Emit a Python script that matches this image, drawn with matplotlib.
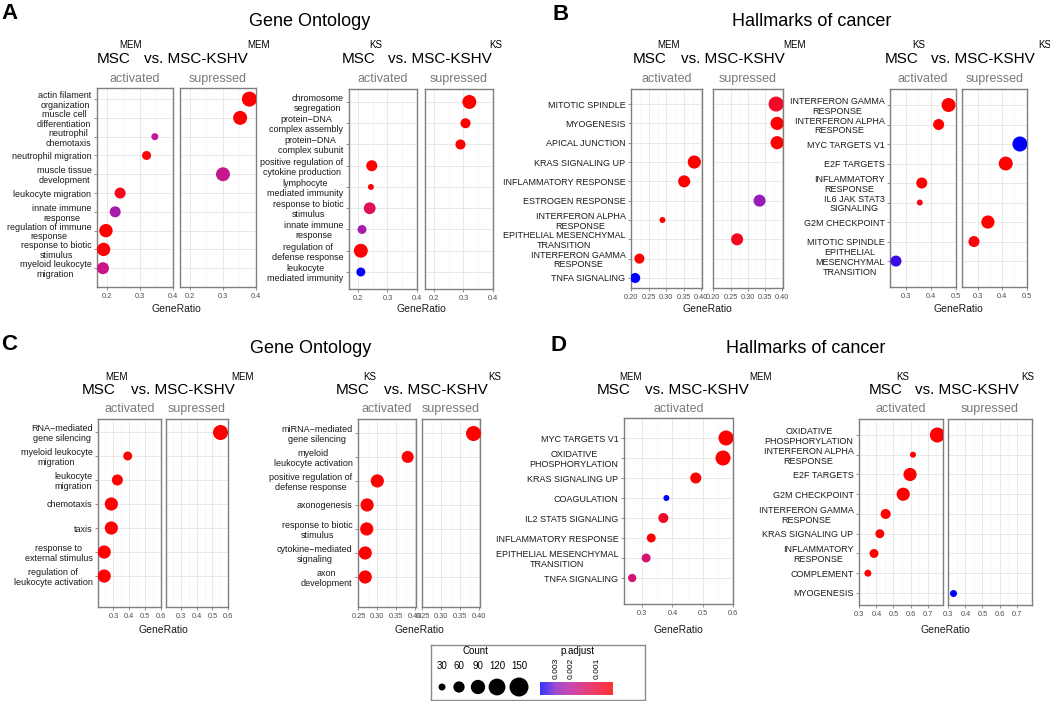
import numpy as np
import matplotlib
matplotlib.use("Agg")
import matplotlib.pyplot as plt
from matplotlib.colors import LinearSegmentedColormap, LogNorm
from matplotlib.ticker import MultipleLocator, FormatStrFormatter

plt.rcParams['font.family'] = ['Liberation Sans', 'DejaVu Sans']

# %% data
# A - Gene Ontology, MEM
a_mem_terms = ["actin filament\norganization", "muscle cell\ndifferentiation", "neutrophil\nchemotaxis",
               "neutrophil migration", "muscle tissue\ndevelopment", "leukocyte migration",
               "innate immune\nresponse", "regulation of immune\nresponse", "response to biotic\nstimulus",
               "myeloid leukocyte\nmigration"]
a_mem_dir = ['s', 's', 'a', 'a', 's', 'a', 'a', 'a', 'a', 'a']
a_mem_ratio = [0.38, 0.352, 0.345, 0.32, 0.30, 0.24, 0.225, 0.197, 0.19, 0.188]
a_mem_count = [98, 86, 30, 42, 86, 58, 58, 80, 80, 67]
a_mem_padj = [0.0005, 0.0005, 0.0019, 0.0007, 0.0018, 0.0008, 0.0024, 0.0005, 0.0007, 0.0017]

# A - Gene Ontology, KS
a_ks_terms = ["chromosome\nsegregation", "protein\u2212DNA\ncomplex assembly", "protein\u2212DNA\ncomplex subunit",
              "positive regulation of\ncytokine production", "lymphocyte\nmediated immunity",
              "response to biotic\nstimulus", "innate immune\nresponse", "regulation of\ndefense response",
              "leukocyte\nmediated immunity"]
a_ks_dir = ['s', 's', 's', 'a', 'a', 'a', 'a', 'a', 'a']
a_ks_ratio = [0.32, 0.307, 0.29, 0.247, 0.244, 0.24, 0.214, 0.21, 0.21]
a_ks_count = [86, 50, 50, 58, 25, 65, 42, 86, 42]
a_ks_padj = [0.0005, 0.0005, 0.0005, 0.0005, 0.0007, 0.0012, 0.0024, 0.0005, 0.0046]

# B - Hallmarks, MEM
b_mem_terms = ["MITOTIC SPINDLE", "MYOGENESIS", "APICAL JUNCTION", "KRAS SIGNALING UP",
               "INFLAMMATORY RESPONSE", "ESTROGEN RESPONSE", "INTERFERON ALPHA\nRESPONSE",
               "EPITHELIAL MESENCHYMAL\nTRANSITION", "INTERFERON GAMMA\nRESPONSE", "TNFA SIGNALING"]
b_mem_dir = ['s', 's', 's', 'a', 'a', 's', 'a', 's', 'a', 'a']
b_mem_ratio = [0.382, 0.385, 0.385, 0.38, 0.351, 0.334, 0.289, 0.269, 0.223, 0.211]
b_mem_count = [98, 78, 78, 78, 67, 67, 25, 67, 50, 50]
b_mem_padj = [0.0009, 0.0005, 0.0005, 0.0005, 0.0005, 0.0027, 0.0006, 0.0008, 0.0006, 0.0046]

# B - Hallmarks, KS
b_ks_terms = ["INTERFERON GAMMA\nRESPONSE", "INTERFERON ALPHA\nRESPONSE", "MYC TARGETS V1", "E2F TARGETS",
              "INFLAMMATORY\nRESPONSE", "IL6 JAK STAT3\nSIGNALING", "G2M CHECKPOINT", "MITOTIC SPINDLE",
              "EPITHELIAL\nMESENCHYMAL\nTRANSITION"]
b_ks_dir = ['a', 'a', 's', 's', 'a', 'a', 's', 's', 'a']
b_ks_ratio = [0.472, 0.432, 0.473, 0.415, 0.364, 0.356, 0.342, 0.285, 0.26]
b_ks_count = [86, 58, 98, 86, 58, 25, 78, 58, 58]
b_ks_padj = [0.0005, 0.0005, 0.0046, 0.0005, 0.0005, 0.0008, 0.0005, 0.0007, 0.0038]

# C - Gene Ontology, MEM
c_mem_terms = ["RNA\u2212mediated\ngene silencing", "myeloid leukocyte\nmigration", "leukocyte\nmigration",
               "chemotaxis", "taxis", "response to\nexternal stimulus", "regulation of\nleukocyte activation"]
c_mem_dir = ['s', 'a', 'a', 'a', 'a', 'a', 'a']
c_mem_ratio = [0.548, 0.39, 0.325, 0.287, 0.287, 0.242, 0.242]
c_mem_count = [98, 42, 58, 78, 78, 78, 78]
c_mem_padj = [0.0004, 0.0005, 0.0005, 0.0004, 0.0004, 0.0004, 0.0004]

# C - Gene Ontology, KS
c_ks_terms = ["miRNA\u2212mediated\ngene silencing", "myeloid\nleukocyte activation",
              "positive regulation of\ndefense response", "axonogenesis", "response to biotic\nstimulus",
              "cytokine\u2212mediated\nsignaling", "axon\ndevelopment"]
c_ks_dir = ['s', 'a', 'a', 'a', 'a', 'a', 'a']
c_ks_ratio = [0.384, 0.38, 0.30, 0.273, 0.272, 0.268, 0.268]
c_ks_count = [98, 67, 78, 78, 78, 78, 78]
c_ks_padj = [0.0004, 0.0005, 0.0004, 0.0004, 0.0004, 0.0004, 0.0004]

# D - Hallmarks, MEM
d_mem_terms = ["MYC TARGETS V1", "OXIDATIVE\nPHOSPHORYLATION", "KRAS SIGNALING UP", "COAGULATION",
               "IL2 STAT5 SIGNALING", "INFLAMMATORY RESPONSE", "EPITHELIAL MESENCHYMAL\nTRANSITION",
               "TNFA SIGNALING"]
d_mem_dir = ['a', 'a', 'a', 'a', 'a', 'a', 'a', 'a']
d_mem_ratio = [0.577, 0.567, 0.477, 0.38, 0.37, 0.33, 0.313, 0.267]
d_mem_count = [98, 98, 58, 25, 50, 42, 42, 38]
d_mem_padj = [0.0005, 0.0005, 0.0005, 0.0046, 0.0009, 0.0006, 0.0015, 0.0015]

# D - Hallmarks, KS
d_ks_terms = ["OXIDATIVE\nPHOSPHORYLATION", "INTERFERON ALPHA\nRESPONSE", "E2F TARGETS", "G2M CHECKPOINT",
              "INTERFERON GAMMA\nRESPONSE", "KRAS SIGNALING UP", "INFLAMMATORY\nRESPONSE", "COMPLEMENT",
              "MYOGENESIS"]
d_ks_dir = ['a', 'a', 'a', 'a', 'a', 'a', 'a', 'a', 's']
d_ks_ratio = [0.757, 0.614, 0.597, 0.557, 0.454, 0.42, 0.386, 0.35, 0.329]
d_ks_count = [98, 25, 78, 78, 50, 42, 42, 30, 30]
d_ks_padj = [0.0005, 0.0005, 0.0005, 0.0005, 0.0005, 0.0005, 0.0005, 0.0005, 0.0046]

legend_counts = [30, 60, 90, 120, 150]
legend_padj = [0.003, 0.002, 0.001]

# %% style helpers
W, H = 1050, 701
fig = plt.figure(figsize=(W / 100, H / 100), dpi=100)

cmap = LinearSegmentedColormap.from_list(
    'padj', [(0, '#ff0000'), (0.3, '#e3104e'), (0.55, '#c21896'), (0.78, '#8a1fc4'), (1, '#0000ff')])
p_lo, p_hi = 0.00065, 0.0046
norm = LogNorm(vmin=p_lo, vmax=p_hi, clip=True)


def msize(c):
    d = np.sqrt(49 + 2.6 * (np.asarray(c, float) - 30))  # dot diameter in px
    return (d * 72 / 100) ** 2


def box(x0, y0, x1, y1):
    return [x0 / W, 1 - y1 / H, (x1 - x0) / W, (y1 - y0) / H]


def fx(x):
    return x / W


def fy(y):
    return 1 - y / H


def panel(terms, direc, ratio, count, padj, rects, xlim, ticks, fmt, pads, strip_y, xlab_y):
    n = len(terms)
    yy = np.arange(n)
    direc = np.array(direc)
    ratio = np.array(ratio); count = np.array(count); padj = np.array(padj)
    keys = ['a', 's']
    names = ['activated', 'supressed']
    step = ticks[1] - ticks[0]
    for i, r in enumerate(rects):
        ax = fig.add_axes(box(*r))
        ax.set_xlim(xlim)
        ax.set_ylim(n - 1 + pads[1], -pads[0])
        ax.set_xticks(ticks)
        ax.xaxis.set_major_formatter(FormatStrFormatter(fmt))
        ax.xaxis.set_minor_locator(MultipleLocator(step / 2))
        ax.set_yticks(yy)
        ax.grid(which='major', color='#e5e5e5', lw=0.6)
        ax.grid(which='minor', axis='x', color='#f3f3f3', lw=0.4)
        ax.set_axisbelow(True)
        for sp in ax.spines.values():
            sp.set_color('#7f7f7f'); sp.set_linewidth(1.0)
        ax.tick_params(axis='x', which='major', labelsize=5.3, labelcolor='#4d4d4d',
                       color='#7f7f7f', length=2, width=0.6, pad=2)
        ax.tick_params(which='minor', length=0)
        if i == 0:
            ax.set_yticklabels(terms, fontsize=6.5, color='#1a1a1a', multialignment='center',
                               linespacing=1.12)
            ax.tick_params(axis='y', length=2, color='#7f7f7f', width=0.6, pad=2)
        else:
            ax.tick_params(axis='y', length=0, labelleft=False)
        m = direc == keys[i]
        ax.scatter(ratio[m], yy[m], s=msize(count[m]), c=padj[m], cmap=cmap, norm=norm,
                   linewidths=0, zorder=3)
        fig.text(fx((r[0] + r[2]) / 2), fy(strip_y), names[i], ha='center', va='baseline',
                 fontsize=9, color='#7a7a7a')
    cx = (rects[0][0] + rects[-1][2]) / 2
    fig.text(fx(cx), fy(xlab_y), 'GeneRatio', ha='center', va='baseline', fontsize=7.5, color='#1a1a1a')


def header(msc_x, vs_x, base_y, s1_x, s2_x, sup_y, tag):
    fig.text(fx(msc_x), fy(base_y), 'MSC', ha='left', va='baseline', fontsize=11)
    fig.text(fx(vs_x), fy(base_y), 'vs. MSC-KSHV', ha='left', va='baseline', fontsize=11)
    fig.text(fx(s1_x), fy(sup_y), tag, ha='center', va='baseline', fontsize=7)
    fig.text(fx(s2_x), fy(sup_y), tag, ha='center', va='baseline', fontsize=7)


# %% panels
panel(a_mem_terms, a_mem_dir, a_mem_ratio, a_mem_count, a_mem_padj,
      [(97, 88, 173, 287), (180, 88, 256, 287)], (0.17, 0.40), [0.2, 0.3, 0.4], '%.1f',
      (0.59, 1.0), 82, 312)
panel(a_ks_terms, a_ks_dir, a_ks_ratio, a_ks_count, a_ks_padj,
      [(349, 89, 417, 289), (425, 89, 493, 289)], (0.17, 0.40), [0.2, 0.3, 0.4], '%.1f',
      (0.61, 0.8), 82, 312)
panel(b_mem_terms, b_mem_dir, b_mem_ratio, b_mem_count, b_mem_padj,
      [(631, 89, 702, 288), (713, 89, 783, 288)], (0.199, 0.402), [0.20, 0.25, 0.30, 0.35, 0.40], '%.2f',
      (0.78, 0.52), 82, 312)
panel(b_ks_terms, b_ks_dir, b_ks_ratio, b_ks_count, b_ks_padj,
      [(890, 89, 956, 287), (962, 89, 1027, 287)], (0.236, 0.502), [0.3, 0.4, 0.5], '%.1f',
      (0.82, 1.33), 82, 312)
panel(c_mem_terms, c_mem_dir, c_mem_ratio, c_mem_count, c_mem_padj,
      [(98, 419, 161, 607), (166, 419, 228, 607)], (0.203, 0.60), [0.3, 0.4, 0.5, 0.6], '%.1f',
      (0.54, 1.29), 412, 633)
panel(c_ks_terms, c_ks_dir, c_ks_ratio, c_ks_count, c_ks_padj,
      [(358, 419, 416, 607), (422, 419, 480, 607)], (0.249, 0.402), [0.25, 0.30, 0.35, 0.40], '%.2f',
      (0.58, 1.25), 412, 633)
panel(d_mem_terms, d_mem_dir, d_mem_ratio, d_mem_count, d_mem_padj,
      [(624, 418, 733, 604)], (0.24, 0.60), [0.3, 0.4, 0.5, 0.6], '%.1f',
      (1.0, 1.3), 412, 633)
panel(d_ks_terms, d_ks_dir, d_ks_ratio, d_ks_count, d_ks_padj,
      [(859, 419, 943, 605), (948, 419, 1032, 605)], (0.298, 0.79), [0.3, 0.4, 0.5, 0.6, 0.7], '%.1f',
      (0.81, 0.61), 412, 633)

# headers
header(97, 144, 63, 131, 258, 48, 'MEM')
header(342, 388, 63, 376, 496, 48, 'KS')
header(633, 681, 63, 668, 795, 48, 'MEM')
header(885, 931, 63, 919, 1045, 48, 'KS')
header(82, 131, 394, 116, 243, 380, 'MEM')
header(336, 384, 394, 370, 495, 380, 'KS')
header(597, 645, 394, 631, 760, 380, 'MEM')
header(869, 915, 394, 903, 1028, 380, 'KS')

# titles and panel letters
fig.text(fx(310), fy(26), 'Gene Ontology', ha='center', va='baseline', fontsize=13)
fig.text(fx(812), fy(26), 'Hallmarks of cancer', ha='center', va='baseline', fontsize=13)
fig.text(fx(311), fy(353), 'Gene Ontology', ha='center', va='baseline', fontsize=13)
fig.text(fx(806), fy(353), 'Hallmarks of cancer', ha='center', va='baseline', fontsize=13)
for lab, x, y in [('A', 1, 19), ('B', 552, 20), ('C', 1, 350), ('D', 550, 351)]:
    fig.text(fx(x), fy(y), lab, ha='left', va='baseline', fontsize=16, fontweight='bold')

# %% legend box
lg = fig.add_axes(box(431, 645, 645, 700))
lg.set_xlim(431, 645); lg.set_ylim(700, 645)
lg.set_xticks([]); lg.set_yticks([])
for sp in lg.spines.values():
    sp.set_color('#8a8a8a'); sp.set_linewidth(1.0)
key_x = [442, 459, 478, 497, 519]
lg.text(475, 654, 'Count', ha='center', va='baseline', fontsize=7)
for kx, c in zip(key_x, legend_counts):
    lg.text(kx, 669, str(c), ha='center', va='baseline', fontsize=7)
lg.scatter(key_x, [687] * len(key_x), s=msize(legend_counts), color='black', linewidths=0)
lg.text(577, 654, 'p.adjust', ha='center', va='baseline', fontsize=7)

cb = fig.add_axes(box(540, 682, 613, 695))
l_hi, l_lo = np.log10(p_hi), np.log10(p_lo)
grad = np.linspace(0, 1, 256)[None, :]
cb.imshow(cmap(1 - grad), extent=(l_hi, l_lo, 0, 1), aspect='auto', alpha=0.8)
cb.set_xlim(l_hi, l_lo); cb.set_ylim(0, 1)
cb.axis('off')
for p in legend_padj:
    cb.text(np.log10(p), 1.25, '%.3f' % p, rotation=90, ha='center', va='bottom', fontsize=6,
            transform=cb.transData)

fig.savefig('out.png', dpi=100)
